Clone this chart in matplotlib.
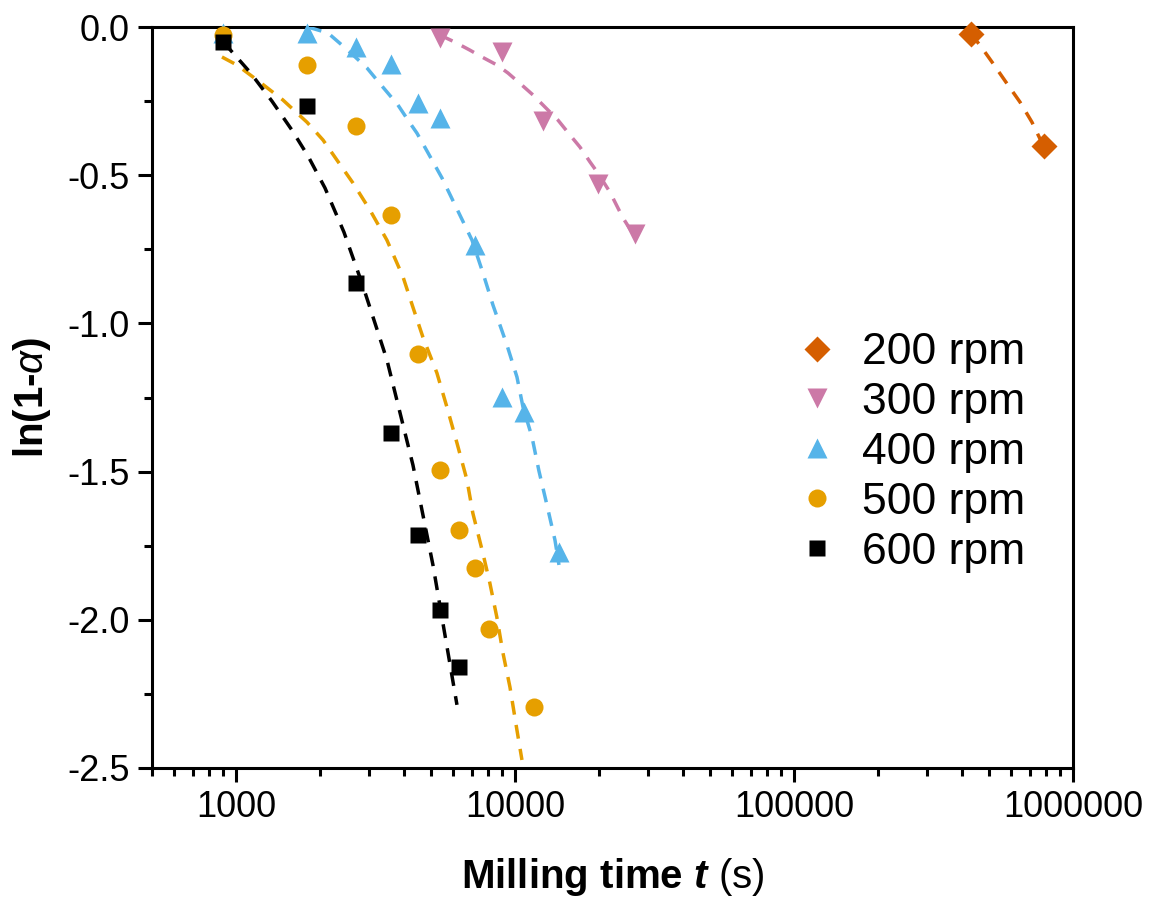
import numpy as np
import matplotlib
matplotlib.use('Agg')
import matplotlib.pyplot as plt
from matplotlib.ticker import LogLocator, FixedLocator, NullFormatter, MultipleLocator

plt.rcParams['font.family'] = ['Liberation Sans', 'DejaVu Sans']
plt.rcParams['mathtext.fontset'] = 'custom'
plt.rcParams['mathtext.rm'] = 'Liberation Sans'
plt.rcParams['mathtext.it'] = 'Liberation Sans:italic'
plt.rcParams['mathtext.bf'] = 'Liberation Sans:bold'
plt.rcParams['mathtext.bfit'] = 'Liberation Sans:bold:italic'

# ---- measured points: milling time (s) vs ln(1-alpha) ----
t_200 = [432000, 787000]
y_200 = [-0.024, -0.40]

t_300 = [5400, 9000, 12600, 19800, 27000]
y_300 = [-0.037, -0.084, -0.317, -0.53, -0.698]

t_400 = [900, 1800, 2700, 3600, 4500, 5400, 7200, 9000, 10800, 14400]
y_400 = [-0.02, -0.02, -0.067, -0.125, -0.256, -0.307, -0.735, -1.248, -1.299, -1.771]

t_500 = [900, 1800, 2700, 3600, 4500, 5400, 6300, 7200, 8100, 11700]
y_500 = [-0.027, -0.128, -0.334, -0.634, -1.103, -1.495, -1.697, -1.825, -2.031, -2.294]

t_600 = [900, 1800, 2700, 3600, 4500, 5400, 6300]
y_600 = [-0.05, -0.267, -0.864, -1.37, -1.714, -1.967, -2.159]

# ---- fitted curves (dashed) ----
fit_t_200 = [427400, 464200, 512600, 575300, 645700, 712900, 780700]
fit_y_200 = [-0.020, -0.061, -0.118, -0.186, -0.253, -0.321, -0.398]

fit_t_300 = [5384, 6095, 6899, 7617, 8620, 9438, 10595, 11601, 13130, 14263,
             15740, 17100, 18570, 19840, 21900, 24380, 26270]
fit_y_300 = [-0.027, -0.051, -0.078, -0.101, -0.128, -0.155, -0.196, -0.229, -0.280, -0.314,
             -0.364, -0.405, -0.455, -0.493, -0.557, -0.644, -0.692]

fit_t_400 = [1812, 2137, 2399, 2627, 2948, 3202, 3506, 3807, 4205, 4454, 4837, 5474,
             6197, 7015, 7679, 8339, 9360, 10167, 10684, 11507, 12190, 13022, 13911, 14380]
fit_y_400 = [0.0, -0.020, -0.061, -0.094, -0.138, -0.179, -0.223, -0.263, -0.324, -0.358, -0.418, -0.509,
             -0.614, -0.719, -0.830, -0.938, -1.073, -1.181, -1.282, -1.383, -1.498, -1.613, -1.731, -1.815]

fit_t_500 = [891, 1008, 1219, 1473, 1797, 2051, 2302, 2626, 3020, 3476, 3970, 4307, 4677,
             5250, 5702, 6194, 6728, 7063, 7672, 8128, 8610, 9057, 9594, 10164, 10593]
fit_y_500 = [-0.101, -0.128, -0.186, -0.246, -0.321, -0.381, -0.449, -0.526, -0.617, -0.719, -0.843, -0.945, -1.046,
             -1.167, -1.282, -1.403, -1.528, -1.640, -1.775, -1.876, -1.991, -2.112, -2.227, -2.372, -2.473]

fit_t_600 = [900, 1122, 1346, 1588, 1812, 2085, 2438, 2852, 3476, 4309, 5082, 5611, 6196]
fit_y_600 = [-0.05, -0.152, -0.250, -0.348, -0.435, -0.543, -0.692, -0.874, -1.123, -1.478, -1.815, -2.051, -2.287]

series = [
    ('200 rpm', t_200, y_200, fit_t_200, fit_y_200, '#D55E00', 'D', 13),
    ('300 rpm', t_300, y_300, fit_t_300, fit_y_300, '#CC79A7', 'v', 15),
    ('400 rpm', t_400, y_400, fit_t_400, fit_y_400, '#56B4E9', '^', 15),
    ('500 rpm', t_500, y_500, fit_t_500, fit_y_500, '#E69F00', 'o', 13),
    ('600 rpm', t_600, y_600, fit_t_600, fit_y_600, 'black', 's', 11.5),
]

fig = plt.figure(figsize=(11.53, 9.02), dpi=100)
ax = fig.add_axes([0.1318, 0.1486, 0.7988, 0.8214])

for name, t, y, ft, fy, c, m, ms in series:
    ax.plot(t, y, ls='none', marker=m, ms=ms, color=c, mec='none', label=name, zorder=3,
            clip_on=False)
    ax.plot(ft, fy, ls='--', lw=2.5, color=c, dashes=(4, 3), zorder=4)

ax.set_xscale('log')
ax.set_xlim(500, 1e6)
ax.set_ylim(-2.5, 0)

ax.xaxis.set_major_locator(FixedLocator([1e3, 1e4, 1e5, 1e6]))
ax.xaxis.set_minor_locator(LogLocator(base=10, subs=np.arange(2, 10), numticks=20))
ax.xaxis.set_minor_formatter(NullFormatter())
ax.set_xticklabels(['1000', '10000', '100000', '1000000'])
ax.yaxis.set_major_locator(MultipleLocator(0.5))
ax.yaxis.set_minor_locator(MultipleLocator(0.25))
ax.set_yticklabels([f'{v:.1f}' for v in ax.get_yticks()])

ax.tick_params(which='major', direction='out', length=10, width=2.2, labelsize=26, pad=6)
ax.tick_params(which='minor', direction='out', length=6, width=2.2)
for sp in ax.spines.values():
    sp.set_linewidth(2.2)

ax.set_xlabel(r'$\mathbf{Milling\ time}\ \mathbfit{t}\ \mathrm{(s)}$', fontsize=29, labelpad=22)
ax.set_ylabel(r'ln(1-$\alpha$)', fontsize=29, fontweight='bold', labelpad=10)

ax.legend(loc='center left', bbox_to_anchor=(0.679, 0.426), frameon=False, fontsize=32,
          handletextpad=0.5, labelspacing=0.2, handlelength=1.0, borderaxespad=0)

fig.savefig('out.png', dpi=100)
